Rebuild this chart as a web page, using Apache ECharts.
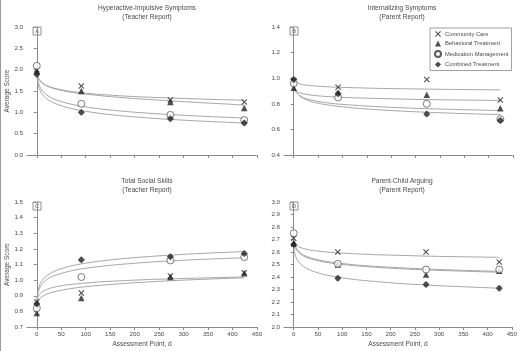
<!DOCTYPE html>
<html>
<head>
<meta charset="utf-8">
<script src="https://cdn.jsdelivr.net/npm/echarts@6/dist/echarts.min.js"></script>
<style>
  html, body { margin: 0; padding: 0; background: #fff; }
  #main { width: 520px; height: 351px; }
</style>
</head>
<body>
<div id="main"></div>
<script>
// assessment points (days) and the points used to trace the fitted curves
const days = [0, 91, 273, 424];
const fitDays = [0, 2, 5, 10, 20, 35, 60, 91, 130, 180, 230, 273, 330, 380, 424];
const xTicks = [0, 50, 100, 150, 200, 250, 300, 350, 400, 450];
const groups = ['Community Care', 'Behavioral Treatment', 'Medication Management', 'Combined Treatment'];

// A - Hyperactive-Impulsive Symptoms (Teacher Report)
const aCommunity = [2.0, 1.62, 1.29, 1.24];
const aBehavioral = [1.97, 1.50, 1.24, 1.10];
const aMedication = [2.09, 1.20, 0.94, 0.82];
const aCombined = [1.89, 1.00, 0.85, 0.75];
const aFitCommunity = [1.98, 1.854, 1.774, 1.704, 1.630, 1.568, 1.507, 1.460, 1.419, 1.382, 1.354, 1.335, 1.313, 1.297, 1.284];
const aFitBehavioral = [1.97, 1.845, 1.765, 1.695, 1.620, 1.556, 1.490, 1.440, 1.390, 1.340, 1.300, 1.270, 1.230, 1.200, 1.170];
const aFitMedication = [1.96, 1.762, 1.637, 1.527, 1.410, 1.313, 1.218, 1.144, 1.080, 1.022, 0.978, 0.947, 0.913, 0.887, 0.868];
const aFitCombined = [1.90, 1.691, 1.560, 1.444, 1.321, 1.219, 1.119, 1.041, 0.974, 0.912, 0.866, 0.834, 0.798, 0.771, 0.750];

// B - Internalizing Symptoms (Parent Report)
const bCommunity = [0.98, 0.93, 0.99, 0.83];
const bBehavioral = [0.925, 0.88, 0.87, 0.765];
const bMedication = [0.96, 0.85, 0.80, 0.68];
const bCombined = [0.99, 0.88, 0.72, 0.67];
const bFitCommunity = [0.99, 0.975, 0.966, 0.958, 0.949, 0.942, 0.935, 0.929, 0.925, 0.920, 0.917, 0.915, 0.912, 0.910, 0.909];
const bFitBehavioral = [0.93, 0.911, 0.899, 0.889, 0.878, 0.868, 0.859, 0.852, 0.846, 0.841, 0.836, 0.833, 0.830, 0.828, 0.826];
const bFitMedication = [0.95, 0.913, 0.890, 0.870, 0.848, 0.830, 0.812, 0.798, 0.787, 0.776, 0.768, 0.762, 0.756, 0.751, 0.747];
const bFitCombined = [0.97, 0.924, 0.895, 0.869, 0.842, 0.819, 0.797, 0.780, 0.765, 0.752, 0.741, 0.734, 0.726, 0.720, 0.716];

// C - Total Social Skills (Teacher Report)
const cCommunity = [0.86, 0.918, 1.027, 1.048];
const cBehavioral = [0.79, 0.886, 1.02, 1.044];
const cMedication = [0.82, 1.02, 1.126, 1.147];
const cCombined = [0.848, 1.13, 1.15, 1.17];
const cFitCommunity = [0.86, 0.889, 0.907, 0.923, 0.940, 0.955, 0.969, 0.979, 0.989, 0.997, 1.004, 1.008, 1.013, 1.017, 1.020];
const cFitBehavioral = [0.84, 0.862, 0.878, 0.893, 0.910, 0.925, 0.941, 0.955, 0.967, 0.979, 0.989, 0.996, 1.004, 1.010, 1.015];
const cFitMedication = [0.86, 0.911, 0.944, 0.972, 1.003, 1.028, 1.052, 1.072, 1.088, 1.103, 1.115, 1.123, 1.132, 1.138, 1.143];
const cFitCombined = [0.87, 0.927, 0.963, 0.994, 1.027, 1.055, 1.083, 1.104, 1.122, 1.139, 1.151, 1.160, 1.170, 1.177, 1.183];

// D - Parent-Child Arguing (Parent Report)
const dCommunity = [2.71, 2.60, 2.60, 2.52];
const dBehavioral = [2.67, 2.50, 2.42, 2.45];
const dMedication = [2.75, 2.505, 2.46, 2.46];
const dCombined = [2.66, 2.39, 2.34, 2.31];
const dFitCommunity = [2.70, 2.674, 2.658, 2.643, 2.628, 2.615, 2.603, 2.593, 2.585, 2.577, 2.572, 2.567, 2.563, 2.560, 2.557];
const dFitBehavioral = [2.70, 2.652, 2.622, 2.596, 2.568, 2.545, 2.522, 2.504, 2.489, 2.475, 2.464, 2.457, 2.449, 2.443, 2.438];
const dFitMedication = [2.71, 2.662, 2.632, 2.605, 2.577, 2.553, 2.530, 2.512, 2.496, 2.482, 2.472, 2.464, 2.456, 2.450, 2.445];
const dFitCombined = [2.66, 2.596, 2.556, 2.521, 2.484, 2.453, 2.422, 2.399, 2.378, 2.360, 2.345, 2.336, 2.325, 2.317, 2.310];

const FONT = "'Liberation Sans', Arial, sans-serif";
const TXT = '#4a4a4a';
const AXIS = '#8a8a8a';

const crossPath = 'path://M-4,-3 L-3,-4 L0,-1 L3,-4 L4,-3 L1,0 L4,3 L3,4 L0,1 L-3,4 L-4,3 L-1,0 Z';
const combPath = 'path://M0,-5 L1.6,-3.5 L2.7,-2.7 L3.5,-1.6 L5,0 L3.5,1.6 L2.7,2.7 L1.6,3.5 L0,5 L-1.6,3.5 L-2.7,2.7 L-3.5,1.6 L-5,0 L-3.5,-1.6 L-2.7,-2.7 L-1.6,-3.5 Z';
const markers = [
  { symbol: crossPath, size: 6, style: { color: '#222' } },
  { symbol: 'triangle', size: 6.5, style: { color: '#222' } },
  { symbol: 'circle', size: 7, style: { color: '#fff', borderColor: '#333', borderWidth: 0.8 } },
  { symbol: combPath, size: 7, style: { color: '#222' } }
];

const panels = [
  { pts: [aCommunity, aBehavioral, aMedication, aCombined], fit: [aFitCommunity, aFitBehavioral, aFitMedication, aFitCombined] },
  { pts: [bCommunity, bBehavioral, bMedication, bCombined], fit: [bFitCommunity, bFitBehavioral, bFitMedication, bFitCombined] },
  { pts: [cCommunity, cBehavioral, cMedication, cCombined], fit: [cFitCommunity, cFitBehavioral, cFitMedication, cFitCombined] },
  { pts: [dCommunity, dBehavioral, dMedication, dCombined], fit: [dFitCommunity, dFitBehavioral, dFitMedication, dFitCombined] }
];

const grids = [
  { left: 27, top: 27, width: 230, height: 128 },
  { left: 284, top: 27, width: 229, height: 128 },
  { left: 27, top: 202, width: 230, height: 125 },
  { left: 284, top: 202, width: 229, height: 125 }
];

const yRanges = [
  { min: 0, max: 3, interval: 0.5 },
  { min: 0.4, max: 1.4, interval: 0.2 },
  { min: 0.7, max: 1.5, interval: 0.1 },
  { min: 2.0, max: 3.0, interval: 0.1 }
];

const xAxes = grids.map((g, i) => ({
  type: 'value', gridIndex: i, min: -20, max: 450,
  name: i >= 2 ? 'Assessment Point, d' : '',
  nameLocation: 'middle', nameGap: 14,
  nameTextStyle: { fontSize: 6.5, color: TXT, fontFamily: FONT },
  splitLine: { show: false },
  axisLine: { lineStyle: { color: AXIS, width: 1 } },
  axisTick: { show: true, length: 3, customValues: xTicks, lineStyle: { color: AXIS } },
  axisLabel: { show: i >= 2, customValues: xTicks, fontSize: 6.2, color: TXT, fontFamily: FONT, margin: 4 }
}));

const yAxes = yRanges.map((r, i) => ({
  type: 'value', gridIndex: i, min: r.min, max: r.max, interval: r.interval,
  name: (i % 2 === 0) ? 'Average Score' : '',
  nameLocation: 'middle', nameGap: 16, nameRotate: 90,
  nameTextStyle: { fontSize: 6.5, color: TXT, fontFamily: FONT },
  splitLine: { show: false },
  axisLine: { show: true, lineStyle: { color: AXIS, width: 1 } },
  axisTick: { show: true, length: 3, lineStyle: { color: AXIS } },
  axisLabel: { fontSize: 6.2, color: TXT, fontFamily: FONT, margin: 4, formatter: v => v.toFixed(1) }
}));

const series = [];
panels.forEach((p, pi) => {
  p.fit.forEach((vals, gi) => {
    series.push({
      name: 'fit' + pi + gi, type: 'line', xAxisIndex: pi, yAxisIndex: pi,
      data: fitDays.map((d, k) => [d, vals[k]]),
      smooth: 0.25, showSymbol: false, silent: true,
      lineStyle: { color: '#a6a6a6', width: 1 }, z: 1
    });
  });
  p.pts.forEach((vals, gi) => {
    const m = markers[gi];
    series.push({
      name: groups[gi], type: 'scatter', xAxisIndex: pi, yAxisIndex: pi,
      data: days.map((d, k) => [d, vals[k]]),
      symbol: m.symbol, symbolSize: m.size,
      itemStyle: m.style, z: 3 + gi
    });
  });
});

const titleStyle = { fontSize: 6.6, fontWeight: 'normal', color: TXT, fontFamily: FONT, lineHeight: 8.5 };
const titles = [
  { text: 'Hyperactive-Impulsive Symptoms\n(Teacher Report)', left: 147, top: 4 },
  { text: 'Internalizing Symptoms\n(Parent Report)', left: 402, top: 4 },
  { text: 'Total Social Skills\n(Teacher Report)', left: 147, top: 177 },
  { text: 'Parent-Child Arguing\n(Parent Report)', left: 402, top: 177 }
].map(t => Object.assign(t, { textAlign: 'center', padding: 0, textStyle: titleStyle }));

const letters = ['A', 'B', 'C', 'D'];
const graphic = [{ type: 'rect', shape: { x: 0, y: 0, width: 1, height: 351 }, style: { fill: '#9a9a9a' } }];
letters.forEach((l, i) => {
  const x = grids[i].left + 6, y = grids[i].top;
  graphic.push({ type: 'rect', shape: { x: x, y: y, width: 8, height: 8 }, style: { fill: '#fff', stroke: '#777', lineWidth: 0.8 } });
  graphic.push({ type: 'text', x: x + 4, y: y + 4.5, style: { text: l, fontSize: 5.5, fontFamily: FONT, fill: TXT, textAlign: 'center', textVerticalAlign: 'middle' } });
});

const chart = echarts.init(document.getElementById('main'));
chart.setOption({
  animation: false,
  backgroundColor: '#fff',
  textStyle: { fontFamily: FONT },
  title: titles,
  grid: grids,
  xAxis: xAxes,
  yAxis: yAxes,
  legend: {
    data: groups, orient: 'vertical', left: 430, top: 28,
    itemWidth: 6, itemHeight: 6, itemGap: 3.5,
    padding: [3, 3, 3, 4],
    borderColor: '#888', borderWidth: 0.8, backgroundColor: '#fff',
    selectedMode: false,
    textStyle: { fontSize: 5.8, color: TXT, fontFamily: FONT, padding: [0, 0, 0, -1] }
  },
  graphic: graphic,
  series: series
});
</script>
</body>
</html>
